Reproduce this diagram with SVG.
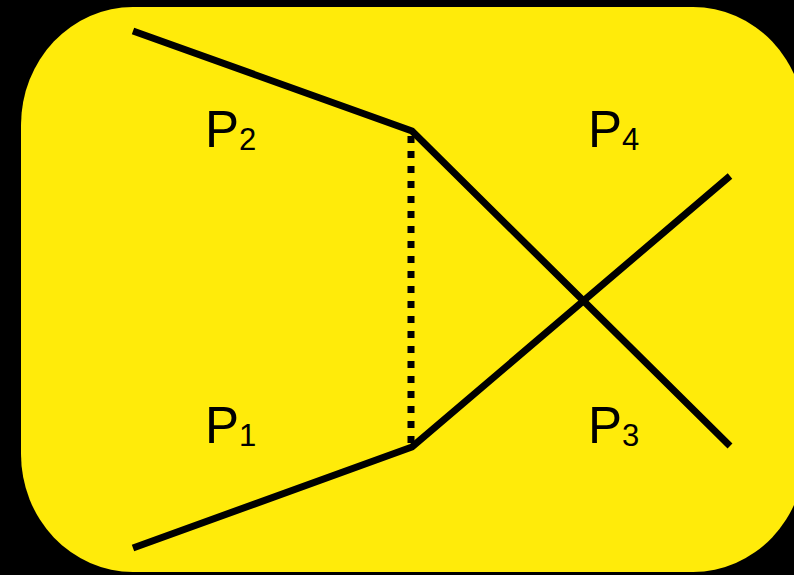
<svg xmlns="http://www.w3.org/2000/svg" width="794" height="575" viewBox="0 0 794 575">
<style>
.ln{fill:none;stroke:#000;stroke-width:7;stroke-linejoin:miter}
.lbl{font-family:"Liberation Sans",Arial,sans-serif;font-size:51px;fill:#000}
.sub{font-size:31px}
</style>
<rect x="0" y="0" width="794" height="575" fill="#000"/>
<g id="panel"><rect x="21" y="7" width="784" height="565" rx="112" ry="118" fill="#FFEB0A"/></g>
<g id="connectors">
<polyline class="ln" points="133,31 412,131 730,446"/>
<polyline class="ln" points="133,548 412,447 730,176"/>
<line class="ln" x1="411" y1="136" x2="411" y2="447" stroke-dasharray="7 8"/>
</g>
<g id="P2"><text class="lbl" x="205" y="147">P<tspan class="sub" dy="3">2</tspan></text></g>
<g id="P4"><text class="lbl" x="588" y="147">P<tspan class="sub" dy="3">4</tspan></text></g>
<g id="P1"><text class="lbl" x="205" y="443">P<tspan class="sub" dy="3">1</tspan></text></g>
<g id="P3"><text class="lbl" x="588" y="443">P<tspan class="sub" dy="3">3</tspan></text></g>
</svg>
